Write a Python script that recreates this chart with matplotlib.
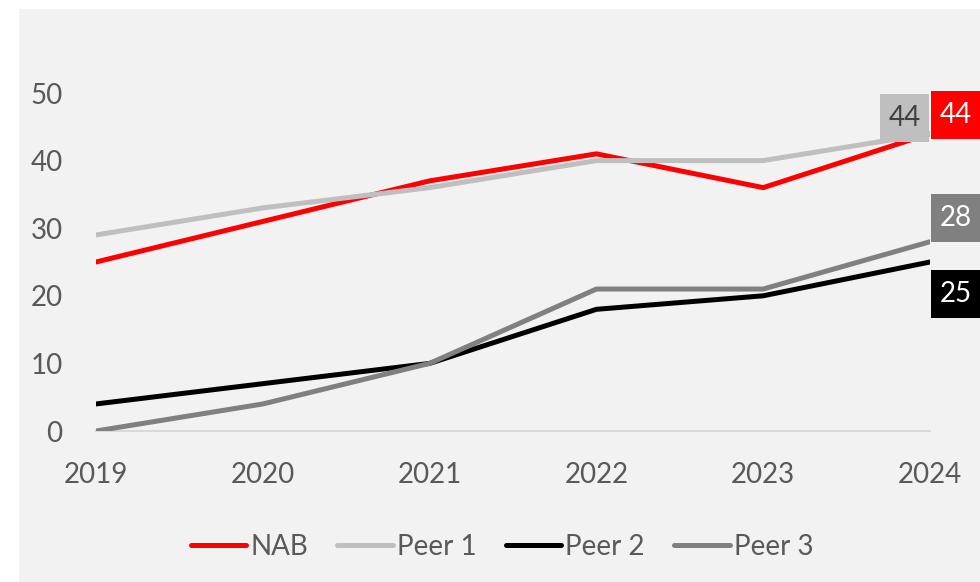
import matplotlib.pyplot as plt
from matplotlib.patches import Rectangle

plt.rcParams['font.family'] = ['Lato', 'DejaVu Sans']

years = [2019, 2020, 2021, 2022, 2023, 2024]
nab = [25, 31, 37, 41, 36, 44]
peer1 = [29, 33, 36, 40, 40, 44]
peer2 = [4, 7, 10, 18, 20, 25]
peer3 = [0, 4, 10, 21, 21, 28]

series = [
    ('NAB', nab, '#ff0000'),
    ('Peer 1', peer1, '#bfbfbf'),
    ('Peer 2', peer2, '#000000'),
    ('Peer 3', peer3, '#808080'),
]

W, H = 980, 582
fig = plt.figure(figsize=(W / 100, H / 100), dpi=100)
fig.patch.set_facecolor('white')
fig.patches.append(Rectangle((19 / W, 0), 1, 1 - 9 / H, transform=fig.transFigure,
                             facecolor='#f2f2f2', edgecolor='none', zorder=-10))

# axes: 2019 -> x=96, 2024 -> x=930 ; 0 -> y=431, 60 -> y=25.4
ax = fig.add_axes([96 / W, 1 - 431 / H, (930 - 96) / W, (431 - 25.4) / H])
ax.set_facecolor('none')

for name, vals, col in series:
    ax.plot(years, vals, color=col, lw=3.6, label=name, solid_capstyle='round', zorder=3)

ax.set_xlim(2019, 2024)
ax.set_ylim(0, 60)
ax.set_yticks([0, 10, 20, 30, 40, 50])
ax.set_xticks(years)
for s in ['top', 'right', 'left']:
    ax.spines[s].set_visible(False)
ax.spines['bottom'].set_color('#d9d9d9')
ax.spines['bottom'].set_linewidth(1.5)
ax.tick_params(length=0, labelsize=20, colors='#595959')
ax.tick_params(axis='x', pad=22)
ax.tick_params(axis='y', pad=24)

# end-of-line value boxes (pixel boxes placed to avoid overlap)
boxes = [
    (nab[-1], '#ff0000', 'white', 931, 91),
    (peer1[-1], '#bfbfbf', '#404040', 880, 94),
    (peer3[-1], '#808080', 'white', 931, 194),
    (peer2[-1], '#000000', 'white', 931, 270),
]
for val, fc, tc, x0, y0 in boxes:
    fig.patches.append(Rectangle((x0 / W, 1 - (y0 + 48) / H), 49 / W, 48 / H,
                                 transform=fig.transFigure, facecolor=fc,
                                 edgecolor='none', zorder=5))
    fig.text((x0 + 24.5) / W, 1 - (y0 + 24) / H, str(val), color=tc, fontsize=20,
             ha='center', va='center', zorder=6)

ax.legend(loc='center', bbox_to_anchor=(502 / W, (H - 547) / H), bbox_transform=fig.transFigure,
          ncol=4, frameon=False, fontsize=20, labelcolor='#595959', handlelength=2.0,
          handletextpad=0.15, columnspacing=1.05)

fig.savefig('out.png', dpi=100)
